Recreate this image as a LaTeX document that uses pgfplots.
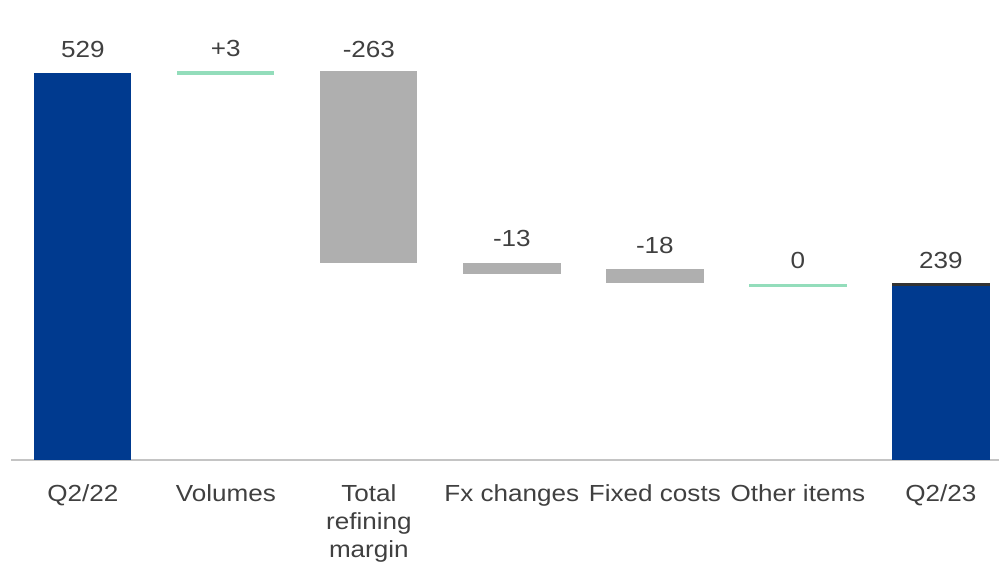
\documentclass[border=0pt]{standalone}
\usepackage{fontspec}
\setmainfont{Liberation Sans}[FakeStretch=1.12]
\usepackage{pgfplots}
\pgfplotsset{compat=1.18}
\definecolor{barblue}{HTML}{003A8F}
\definecolor{bargrey}{HTML}{AFAFAF}
\definecolor{bargreen}{HTML}{93DDBB}
\definecolor{darkline}{HTML}{333333}
\definecolor{txt}{HTML}{404040}
\definecolor{axline}{HTML}{C4C4C4}
\tikzset{vlab/.style={font=\fontsize{23.3}{28}\selectfont, text=txt, inner sep=0pt, anchor=base}}
\begin{document}
\begin{tikzpicture}
\begin{axis}[
  scale only axis,
  width=988.7pt, height=460.3pt,
  xmin=-0.5, xmax=6.406,
  ymin=0, ymax=629.2,
  axis x line*=bottom,
  axis y line=none,
  axis line style={draw=axline, line width=2pt},
  xtick={0,1,2,3,4,5,6},
  xticklabels={Q2/22, Volumes, Total\\refining\\margin, Fx changes, Fixed costs, Other items, Q2/23},
  major tick length=0pt,
  xtick style={draw=none},
  xticklabel style={font=\fontsize{23.3}{28}\selectfont, text=txt, align=center, anchor=north, inner sep=0pt, yshift=-25pt},
  clip=false,
]
% Q2/22
\addplot[fill=barblue, draw=none] coordinates {(-0.34,0) (0.34,0) (0.34,529) (-0.34,529)} --cycle;
% Volumes (+3)
\addplot[draw=bargreen, line width=4.3pt] coordinates {(0.66,529.6) (1.34,529.6)};
% Total refining margin (-263)
\addplot[fill=bargrey, draw=none] coordinates {(1.66,269) (2.34,269) (2.34,532.1) (1.66,532.1)} --cycle;
% Fx changes (-13)
\addplot[fill=bargrey, draw=none] coordinates {(2.66,254.2) (3.34,254.2) (3.34,269.3) (2.66,269.3)} --cycle;
% Fixed costs (-18)
\addplot[fill=bargrey, draw=none] coordinates {(3.66,241.9) (4.34,241.9) (4.34,261.5) (3.66,261.5)} --cycle;
% Other items (0)
\addplot[draw=bargreen, line width=3pt] coordinates {(4.66,238.5) (5.34,238.5)};
% Q2/23
\addplot[fill=barblue, draw=none] coordinates {(5.66,0) (6.34,0) (6.34,241.9) (5.66,241.9)} --cycle;
\addplot[draw=darkline, line width=3.4pt] coordinates {(5.66,239.6) (6.34,239.6)};
% value labels
\node[vlab] at (axis cs:0,550.8) {529};
\node[vlab] at (axis cs:1,551.7) {+3};
\node[vlab] at (axis cs:2,550.8) {-263};
\node[vlab] at (axis cs:3,292) {-13};
\node[vlab] at (axis cs:4,283) {-18};
\node[vlab] at (axis cs:5,262.4) {0};
\node[vlab] at (axis cs:6,261.5) {239};
\end{axis}
\path ([shift={(-11.3pt,-106.7pt)}]current axis.south west) rectangle (current axis.north east);
\end{tikzpicture}
\end{document}
